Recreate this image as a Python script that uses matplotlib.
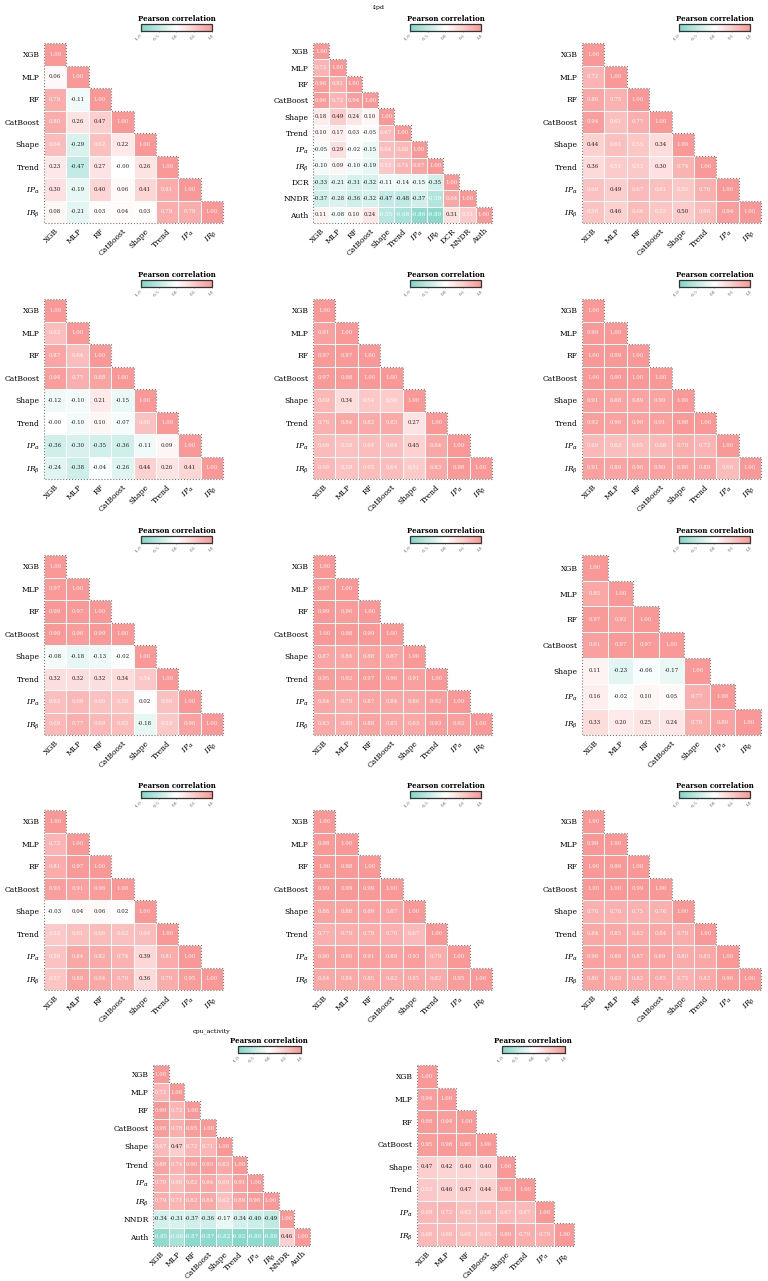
import numpy as np
import matplotlib
matplotlib.use("Agg")
import matplotlib.pyplot as plt
from matplotlib.colors import LinearSegmentedColormap
from matplotlib.cm import ScalarMappable
from matplotlib.colors import Normalize

plt.rcParams['font.family'] = ['DejaVu Serif']
plt.rcParams['mathtext.fontset'] = 'dejavuserif'

IPA = r'$IP_{\alpha}$'
IRB = r'$IR_{\beta}$'
labels8 = ['XGB', 'MLP', 'RF', 'CatBoost', 'Shape', 'Trend', IPA, IRB]
labels7 = ['XGB', 'MLP', 'RF', 'CatBoost', 'Shape', IPA, IRB]
labels11 = ['XGB', 'MLP', 'RF', 'CatBoost', 'Shape', 'Trend', IPA, IRB, 'DCR', 'NNDR', 'Auth']
labels10 = ['XGB', 'MLP', 'RF', 'CatBoost', 'Shape', 'Trend', IPA, IRB, 'NNDR', 'Auth']

# lower-triangle rows (below diagonal), diagonal = 1.00
p1 = [[0.06], [0.79, -0.11], [0.80, 0.26, 0.47], [0.64, -0.29, 0.62, 0.22],
      [0.23, -0.47, 0.27, -0.00, 0.26], [0.30, -0.19, 0.40, 0.06, 0.41, 0.81],
      [0.08, -0.21, 0.03, 0.04, 0.03, 0.79, 0.79]]
p2 = [[0.72], [0.96, 0.81], [0.96, 0.72, 0.94], [0.18, 0.49, 0.24, 0.10],
      [0.10, 0.17, 0.03, -0.05, 0.67], [-0.05, 0.29, -0.02, -0.15, 0.64, 0.68],
      [-0.10, 0.09, -0.10, -0.19, 0.53, 0.74, 0.87],
      [-0.33, -0.21, -0.31, -0.32, -0.11, -0.14, -0.15, -0.35],
      [-0.37, -0.28, -0.36, -0.32, -0.47, -0.48, -0.37, -0.59, 0.84],
      [0.11, -0.08, 0.10, 0.24, -0.55, -0.68, -0.86, -0.89, 0.31, 0.51]]
p3 = [[0.72], [0.86, 0.75], [0.94, 0.61, 0.77], [0.44, 0.61, 0.55, 0.34],
      [0.36, 0.51, 0.53, 0.30, 0.74], [0.60, 0.49, 0.67, 0.61, 0.55, 0.76],
      [0.58, 0.46, 0.66, 0.55, 0.497, 0.66, 0.94]]
p4 = [[0.63], [0.87, 0.64], [0.94, 0.77, 0.88], [-0.12, -0.10, 0.21, -0.15],
      [-0.00, -0.10, 0.10, -0.07, 0.60], [-0.36, -0.30, -0.35, -0.36, -0.11, 0.09],
      [-0.24, -0.38, -0.04, -0.26, 0.44, 0.26, 0.41]]
p5 = [[0.91], [0.97, 0.97], [0.97, 0.98, 1.00], [0.69, 0.34, 0.54, 0.503],
      [0.76, 0.84, 0.82, 0.83, 0.27], [0.66, 0.59, 0.64, 0.64, 0.45, 0.84],
      [0.68, 0.59, 0.65, 0.64, 0.51, 0.83, 0.98]]
p6 = [[0.99], [1.00, 0.99], [1.00, 0.99, 1.00], [0.91, 0.88, 0.89, 0.90],
      [0.92, 0.90, 0.90, 0.91, 0.98], [0.69, 0.63, 0.65, 0.68, 0.78, 0.72],
      [0.91, 0.89, 0.90, 0.90, 0.90, 0.89, 0.66]]
p7 = [[0.97], [0.99, 0.97], [0.99, 0.96, 0.99], [-0.08, -0.18, -0.13, -0.02],
      [0.32, 0.32, 0.32, 0.34, 0.54], [0.63, 0.69, 0.60, 0.58, 0.02, 0.60],
      [0.69, 0.77, 0.69, 0.65, -0.18, 0.53, 0.90]]
p8 = [[0.97], [0.99, 0.96], [1.00, 0.98, 0.99], [0.87, 0.86, 0.88, 0.87],
      [0.95, 0.92, 0.97, 0.96, 0.91], [0.84, 0.79, 0.87, 0.84, 0.86, 0.92],
      [0.83, 0.80, 0.88, 0.85, 0.83, 0.93, 0.92]]
p9 = [[0.85], [0.97, 0.92], [0.91, 0.97, 0.97], [0.11, -0.23, -0.06, -0.17],
      [0.16, -0.02, 0.10, 0.05, 0.77], [0.33, 0.20, 0.25, 0.24, 0.78, 0.89]]
p10 = [[0.72], [0.81, 0.97], [0.93, 0.91, 0.96], [-0.03, 0.04, 0.06, 0.02],
       [0.52, 0.61, 0.66, 0.62, 0.64], [0.59, 0.84, 0.82, 0.74, 0.39, 0.81],
       [0.57, 0.88, 0.84, 0.76, 0.36, 0.79, 0.95]]
p11 = [[0.98], [1.00, 0.98], [0.99, 0.99, 0.99], [0.88, 0.88, 0.89, 0.87],
       [0.77, 0.79, 0.79, 0.76, 0.67], [0.90, 0.90, 0.91, 0.89, 0.93, 0.79],
       [0.84, 0.84, 0.85, 0.82, 0.85, 0.82, 0.95]]
p12 = [[0.99], [1.00, 0.99], [1.00, 1.00, 0.99], [0.76, 0.76, 0.75, 0.76],
       [0.84, 0.85, 0.82, 0.84, 0.79], [0.90, 0.88, 0.87, 0.89, 0.80, 0.85],
       [0.86, 0.83, 0.82, 0.85, 0.75, 0.83, 0.96]]
p13 = [[0.72], [0.99, 0.72], [0.96, 0.78, 0.95], [0.67, 0.47, 0.72, 0.71],
       [0.88, 0.74, 0.90, 0.93, 0.83], [0.79, 0.66, 0.82, 0.84, 0.69, 0.91],
       [0.79, 0.71, 0.82, 0.84, 0.62, 0.89, 0.96],
       [-0.34, -0.31, -0.37, -0.36, -0.17, -0.34, -0.40, -0.49],
       [-0.85, -0.66, -0.87, -0.87, -0.82, -0.92, -0.86, -0.88, 0.46]]
p14 = [[0.94], [0.98, 0.94], [0.95, 0.98, 0.95], [0.47, 0.42, 0.40, 0.40],
       [0.53, 0.46, 0.47, 0.44, 0.93], [0.69, 0.72, 0.63, 0.68, 0.67, 0.67],
       [0.68, 0.68, 0.65, 0.65, 0.89, 0.79, 0.79]]

panels = [
    (p1, labels8, None), (p2, labels11, 'ilpd'), (p3, labels8, None),
    (p4, labels8, None), (p5, labels8, None), (p6, labels8, None),
    (p7, labels8, None), (p8, labels8, None), (p9, labels7, None),
    (p10, labels8, None), (p11, labels8, None), (p12, labels8, None),
    (p13, labels10, 'cpu_activity'), (p14, labels8, None),
]

# axes boxes in pixels: left, top, width, height
W, H = 768, 1281
boxes = []
for top in [43, 299, 555, 810]:
    for left in [44, 313, 582]:
        boxes.append((left, top, 179, 180))
boxes.append((153, 1065, 157, 181))
boxes.append((417, 1065, 157, 181))
title_pos = {1: (379, 8), 12: (212, 1031)}

cmap = LinearSegmentedColormap.from_list('tealred', ['#7cd5c6', '#ffffff', '#f99896'])
norm = Normalize(-1, 1)

fig = plt.figure(figsize=(W / 100, H / 100), dpi=100)

for k, ((rows, labels, title), (l, t, w, h)) in enumerate(zip(panels, boxes)):
    n = len(labels)
    M = np.full((n, n), np.nan)
    for i in range(n):
        M[i, i] = 1.0
    for i, r in enumerate(rows, start=1):
        for j, v in enumerate(r):
            M[i, j] = v
    Mm = np.ma.masked_invalid(M)
    ax = fig.add_axes([l / W, 1 - (t + h) / H, w / W, h / H])
    ax.pcolormesh(np.arange(n + 1), np.arange(n + 1), Mm, cmap=cmap, norm=norm,
                  edgecolors='white', linewidth=0.5)
    ax.set_xlim(0, n)
    ax.set_ylim(n, 0)
    for i in range(n):
        for j in range(i + 1):
            v = M[i, j]
            ax.text(j + 0.5, i + 0.5, f"{v:.2f}", ha='center', va='center',
                    fontsize=4, color='white' if abs(v) > 0.5 else '#222222')
    # dotted outline of the lower triangle
    xs, ys = [0], [0]
    for i in range(n):
        xs += [i + 1, i + 1]
        ys += [i, i + 1]
    xs += [0, 0]
    ys += [n, 0]
    ax.plot(xs, ys, ls=':', color='#777777', lw=0.8, clip_on=False)
    for s in ax.spines.values():
        s.set_visible(False)
    ax.set_xticks(np.arange(n) + 0.5)
    ax.set_yticks(np.arange(n) + 0.5)
    ax.set_xticklabels(labels, rotation=45, ha='right', rotation_mode='anchor', fontsize=5.5)
    ax.set_yticklabels(labels, fontsize=5.5)
    ax.tick_params(length=0, pad=3)

    # colorbar
    cl = l + 0.54 * w
    cw = 0.40 * w
    ct = t - 19.5
    cax = fig.add_axes([cl / W, 1 - (ct + 7.5) / H, cw / W, 7.5 / H])
    cb = fig.colorbar(ScalarMappable(norm=norm, cmap=cmap), cax=cax, orientation='horizontal')
    cb.set_ticks([-1.0, -0.5, 0.0, 0.5, 1.0])
    cb.set_ticklabels(['-1.0', '-0.5', '0.0', '0.5', '1.0'])
    cax.tick_params(labelsize=3, length=1, width=0.4, color='#555555', labelcolor='#555555', pad=1)
    for lab in cax.get_xticklabels():
        lab.set_rotation(45)
        lab.set_ha('right')
        lab.set_rotation_mode('anchor')
    cb.outline.set_linewidth(0.9)
    cb.outline.set_edgecolor('#333333')
    cax.set_title('Pearson correlation', fontsize=5, fontweight='bold', pad=2)

    if k in title_pos:
        tx, ty = title_pos[k]
        fig.text(tx / W, 1 - ty / H, title, ha='center', va='center', fontsize=4.5)

fig.savefig('out.png', dpi=100)
